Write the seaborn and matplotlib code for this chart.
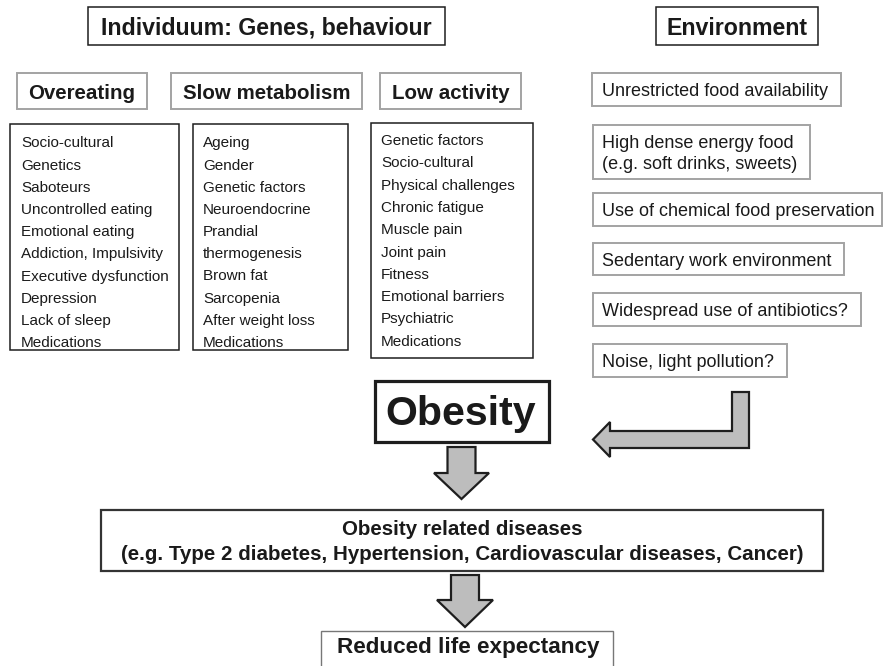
import matplotlib
matplotlib.use("Agg")
import matplotlib.pyplot as plt
from matplotlib.patches import Rectangle, Polygon
import seaborn as sns

# ---------------- content ----------------
header_left = "Individuum: Genes, behaviour"
header_right = "Environment"
sub_headers = ["Overeating", "Slow metabolism", "Low activity"]
overeating_items = ["Socio-cultural", "Genetics", "Saboteurs", "Uncontrolled eating",
                    "Emotional eating", "Addiction, Impulsivity", "Executive dysfunction",
                    "Depression", "Lack of sleep", "Medications"]
slow_metabolism_items = ["Ageing", "Gender", "Genetic factors", "Neuroendocrine", "Prandial",
                         "thermogenesis", "Brown fat", "Sarcopenia", "After weight loss",
                         "Medications"]
low_activity_items = ["Genetic factors", "Socio-cultural", "Physical challenges",
                      "Chronic fatigue", "Muscle pain", "Joint pain", "Fitness",
                      "Emotional barriers", "Psychiatric", "Medications"]
environment_items = ["Unrestricted food availability",
                     "High dense energy food\n(e.g. soft drinks, sweets)",
                     "Use of chemical food preservation",
                     "Sedentary work environment",
                     "Widespread use of antibiotics?",
                     "Noise, light pollution?"]
center_label = "Obesity"
diseases_lines = ["Obesity related diseases",
                  "(e.g. Type 2 diabetes, Hypertension, Cardiovascular diseases, Cancer)"]
final_label = "Reduced life expectancy"

# ---------------- style ----------------
sns.set_theme(style="white")
plt.rcParams["font.family"] = ["Liberation Sans", "DejaVu Sans"]

TXT = "#1a1a1a"
BLACK = "#1e1e1e"
GREY = "#a3a3a3"
FILL = "#bdbdbd"

fig = plt.figure(figsize=(8.83, 6.66), dpi=100)
ax = fig.add_axes([0, 0, 1, 1])
ax.set_xlim(0, 883)
ax.set_ylim(666, 0)
ax.axis("off")


def box(x0, y0, x1, y1, ec, lw):
    ax.add_patch(Rectangle((x0, y0), x1 - x0, y1 - y0, facecolor="white",
                           edgecolor=ec, linewidth=lw, zorder=2))


# headers
box(88, 7, 445, 45, BLACK, 1.1)
ax.text(266.5, 35, header_left, ha="center", va="baseline", fontsize=16.7,
        fontweight="bold", color=TXT, zorder=3)
box(656, 7, 818, 45, BLACK, 1.1)
ax.text(737, 35, header_right, ha="center", va="baseline", fontsize=16.7,
        fontweight="bold", color=TXT, zorder=3)

# sub headers
sub_boxes = [(17, 73, 147, 109), (171, 73, 362, 109), (380, 73, 521, 109)]
for label, (x0, y0, x1, y1) in zip(sub_headers, sub_boxes):
    box(x0, y0, x1, y1, GREY, 1.4)
    ax.text((x0 + x1) / 2, 99, label, ha="center", va="baseline", fontsize=14.8,
            fontweight="bold", color=TXT, zorder=3)

# lists
list_boxes = [(10, 124, 179, 350, 21, 147.3, 22.2),
              (193, 124, 348, 350, 203, 147.3, 22.2),
              (371, 123, 533, 358, 381, 145.0, 22.3)]
for items, (x0, y0, x1, y1, tx, ty, dy) in zip(
        [overeating_items, slow_metabolism_items, low_activity_items], list_boxes):
    box(x0, y0, x1, y1, BLACK, 1.1)
    for i, item in enumerate(items):
        ax.text(tx, ty + i * dy, item, ha="left", va="baseline", fontsize=11.0,
                color=TXT, zorder=3)

# environment
env_boxes = [(592, 73, 841, 106), (593, 125, 810, 179), (593, 193, 882, 226),
             (593, 243, 844, 275), (593, 293, 861, 326), (593, 344, 787, 377)]
for label, (x0, y0, x1, y1) in zip(environment_items, env_boxes):
    box(x0, y0, x1, y1, GREY, 1.4)
    lines = label.split("\n")
    n = len(lines)
    cy = (y0 + y1) / 2
    for j, line in enumerate(lines):
        base = cy + 6.5 + (j - (n - 1) / 2) * 21
        ax.text(602, base, line, ha="left", va="baseline", fontsize=13.0,
                color=TXT, zorder=3)

# obesity
box(375, 381, 549, 442, BLACK, 2.3)
ax.text(461, 425, center_label, ha="center", va="baseline", fontsize=29.6,
        fontweight="bold", color=TXT, zorder=3)

# L-shaped arrow from environment
l_arrow = [(749, 392), (749, 448), (610, 448), (610, 457), (593, 439.5),
           (610, 422), (610, 431), (732, 431), (732, 392)]
ax.add_patch(Polygon(l_arrow, closed=True, facecolor=FILL, edgecolor=BLACK,
                     linewidth=1.6, joinstyle="miter", zorder=2))


def down_arrow(cx, top, base, tip, shaft_w, head_w):
    pts = [(cx - shaft_w / 2, top), (cx + shaft_w / 2, top), (cx + shaft_w / 2, base),
           (cx + head_w / 2, base), (cx, tip), (cx - head_w / 2, base),
           (cx - shaft_w / 2, base)]
    ax.add_patch(Polygon(pts, closed=True, facecolor=FILL, edgecolor=BLACK,
                         linewidth=1.6, joinstyle="miter", zorder=2))


down_arrow(461.5, 447, 473, 499, 28, 55)
down_arrow(465, 575, 600, 627, 28, 56)

# diseases
box(101, 510, 823, 571, "#333333", 1.6)
ax.text(462, 535, diseases_lines[0], ha="center", va="baseline",
        fontsize=14.8, fontweight="bold", color=TXT, zorder=3)
ax.text(462, 560, diseases_lines[1], ha="center", va="baseline",
        fontsize=14.8, fontweight="bold", color=TXT, zorder=3)

# reduced life expectancy
box(321, 631, 613, 690, "#777777", 1.0)
ax.text(468, 653, final_label, ha="center", va="baseline",
        fontsize=16.2, fontweight="bold", color=TXT, zorder=3)

fig.savefig("out.png", dpi=100)
